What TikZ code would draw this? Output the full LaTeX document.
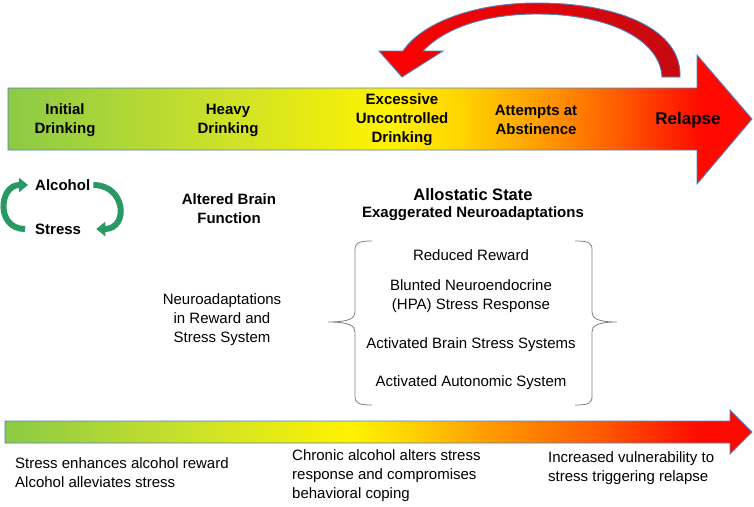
\documentclass[tikz,border=0pt]{standalone}
\usepackage{fontspec}
\setmainfont{Liberation Sans}
\usetikzlibrary{positioning,arrows.meta}

\definecolor{stgreen}{RGB}{140,202,70}
\definecolor{stlime}{RGB}{206,226,40}
\definecolor{styellow}{RGB}{255,242,0}
\definecolor{stgold}{RGB}{255,212,0}
\definecolor{storange}{RGB}{255,160,0}
\definecolor{stdark}{RGB}{255,90,0}
\definecolor{stred}{RGB}{255,10,0}
\definecolor{edgeblue}{RGB}{79,129,189}
\definecolor{cycgreen}{RGB}{40,152,100}
\definecolor{backred}{RGB}{196,10,16}

\pgfdeclarehorizontalshading{topshade}{100bp}{color(0bp)=(stgreen); color(25bp)=(stgreen); color(39.8bp)=(stlime); color(50.7bp)=(styellow); color(55.4bp)=(stgold); color(60.5bp)=(storange); color(66.1bp)=(stdark); color(71.5bp)=(stred); color(75bp)=(stred); color(100bp)=(stred)}
\pgfdeclarehorizontalshading{lowshade}{100bp}{color(0bp)=(stgreen); color(25bp)=(stgreen); color(38bp)=(stlime); color(48.2bp)=(styellow); color(52bp)=(stgold); color(56.8bp)=(storange); color(64.8bp)=(stdark); color(71.5bp)=(stred); color(75bp)=(stred); color(100bp)=(stred)}

\tikzset{
  arrowedge/.style={draw=edgeblue, line width=0.9pt},
  stage/.style={font=\bfseries\fontsize{15}{19}\selectfont, align=center, inner sep=0pt},
  heading/.style={font=\bfseries\fontsize{15}{19}\selectfont, align=center, inner sep=0pt},
  note/.style={font=\fontsize{15}{19}\selectfont, align=center, inner sep=0pt},
  lownote/.style={font=\fontsize{15}{19}\selectfont, align=left, inner sep=0pt, anchor=west},
  cycarrow/.style={draw=cycgreen, line width=6pt, -{Triangle[width=14pt,length=9pt]}},
  bracket/.style={draw=gray, line width=0.8pt}
}

\begin{document}
\begin{tikzpicture}[x=1pt,y=-1pt]
\useasboundingbox (0,0) rectangle (754,506);

% stage arrow
\draw[arrowedge, shade, shading=topshade] (8,88) -- (697,88) -- (697,55) -- (752,119) -- (697,184) -- (697,150) -- (8,150) -- cycle;

% relapse loop back
\draw[arrowedge, left color=red, right color=backred] (680,77) .. controls (682,30) and (620,3) .. (537,3) .. controls (470,3) and (420,25) .. (403,51)
  -- (379,51) -- (402,77) -- (443,51) -- (423,51)
  .. controls (445,28) and (485,14) .. (537,14) .. controls (610,14) and (660,40) .. (662,77) -- cycle;

% stages
\node[stage] (init) at (65,120) {Initial\\Drinking};
\node[stage] (heavy) at (228,120) {Heavy\\Drinking};
\node[stage] (excess) at (402,120) {Excessive\\Uncontrolled\\Drinking};
\node[stage] (attempt) at (536,120) {Attempts at\\Abstinence};
\node[stage, font=\bfseries\fontsize{17}{20}\selectfont] (relapse) at (688,120) {Relapse};

% alcohol / stress cycle
\node[stage, anchor=west] (alc) at (35,185) {Alcohol};
\node[stage, anchor=west] (str) at (35,229) {Stress};
\draw[cycarrow] ([xshift=-10pt]str.west) to[out=180,in=180,looseness=1.7] ([xshift=-7pt]alc.west);
\draw[cycarrow] ([xshift=3pt]alc.east) to[out=0,in=0,looseness=1.9] ([xshift=15pt]str.east);

\node[heading] (altered) at (229,209) {Altered Brain\\Function};
\node[heading, font=\bfseries\fontsize{16.5}{19}\selectfont] (allo) at (473,195) {Allostatic State};
\node[heading] (exag) at (473,214) {Exaggerated Neuroadaptations};

\node[note] (neuro) at (222,320) {Neuroadaptations\\in Reward and\\Stress System};

% allostatic list
\node[note] (reward) at (471,255) {Reduced Reward};
\node[note] (blunted) at (471,296) {Blunted Neuroendocrine\\(HPA) Stress Response};
\node[note] (brainsys) at (471,345) {Activated Brain Stress Systems};
\node[note] (autonomic) at (471,383) {Activated Autonomic System};

\draw[bracket] (372,241) .. controls (358,241) and (355,243) .. (355,250) -- (355,312) .. controls (355,318) and (350,322) .. (328,322) .. controls (350,322) and (355,326) .. (355,332) -- (355,396) .. controls (355,403) and (358,405) .. (372,405);
\draw[bracket] (575,241) .. controls (589,241) and (592,243) .. (592,250) -- (592,312) .. controls (592,318) and (597,322) .. (617,322) .. controls (597,322) and (592,326) .. (592,332) -- (592,396) .. controls (592,403) and (589,405) .. (575,405);

% stress arrow
\draw[arrowedge, shade, shading=lowshade] (5,421) -- (730,421) -- (730,410) -- (752,432) -- (730,454) -- (730,443) -- (5,443) -- cycle;

\node[lownote] (enh) at (15,473) {Stress enhances alcohol reward\\Alcohol alleviates stress};
\node[lownote] (chronic) at (292,476) {Chronic alcohol alters stress\\response and compromises\\behavioral coping};
\node[lownote] (vuln) at (548,468) {Increased vulnerability to\\stress triggering relapse};
\end{tikzpicture}
\end{document}
